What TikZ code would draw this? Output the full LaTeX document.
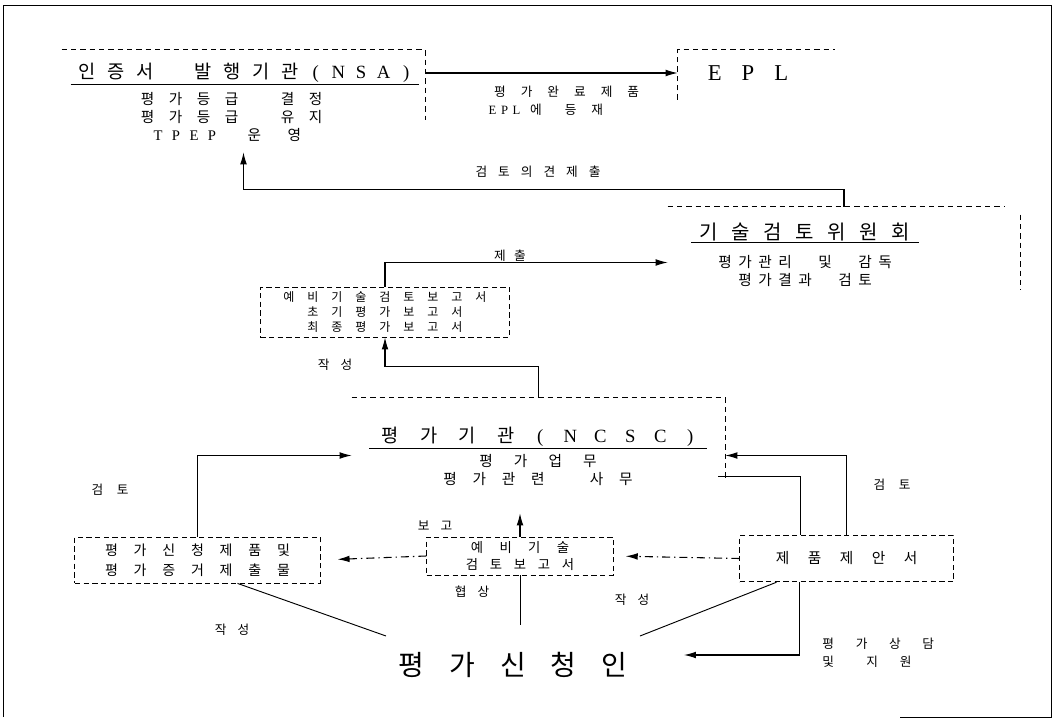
\documentclass[tikz,border=0pt]{standalone}
\usepackage{fontspec}
\setmainfont{Liberation Serif}
\newfontfamily\kr{Noto Sans CJK KR}
\newfontfamily\lat{Liberation Serif}
\usetikzlibrary{arrows.meta, positioning, fit, calc}

% characters set on a fixed pitch, as in the scan
\newlength\cellw
\newcommand\cells[2]{\setlength\cellw{#1}\cellsloop#2\relax}
\def\cellsloop#1{\ifx\relax#1\else\makebox[\cellw]{#1}\expandafter\cellsloop\fi}

\begin{document}
\begin{tikzpicture}[x=0.75pt, y=-0.75pt,
    ttl/.style={font={\kr\fontsize{14}{16}\selectfont}, inner sep=1pt},
    txt/.style={font={\kr\fontsize{11}{13.5}\selectfont}, align=center, inner sep=1pt},
    lbl/.style={font={\kr\fontsize{9.5}{13.5}\selectfont}, inner sep=1pt},
    box/.style={draw, dash pattern=on 4pt off 2.5pt, line width=0.6pt},
    rim/.style={dash pattern=on 4pt off 3pt, line width=0.5pt},
    arr/.style={-{Latex[length=9pt,width=5pt]}, line width=0.8pt},
    ln/.style={line width=0.7pt},
    dd/.style={dash pattern=on 6pt off 3pt on 1pt off 3pt},
  ]
  \useasboundingbox (0,0) rectangle (1055,720);

  % page frame
  \draw[line width=0.6pt] (3,717) -- (3,5) -- (1051,5) -- (1051,717) -- (900,717);

  % entity frames
  \node[fit={(62,50) (425,152)}, inner sep=0pt] (nsabox) {};
  \node[fit={(678,50) (835,100)}, inner sep=0pt] (eplbox) {};
  \node[fit={(668,207) (1020,318)}, inner sep=0pt] (techbox) {};
  \node[fit={(352,398) (725,513)}, inner sep=0pt] (ncscbox) {};

  \draw[rim] (nsabox.north west) -- (nsabox.north east) -- ($(nsabox.north east)+(0,70)$);
  \draw[rim] ($(eplbox.north west)+(0,50)$) -- (eplbox.north west) -- (eplbox.north east);
  \draw[rim] (techbox.north west) -- ($(techbox.north east)+(-15,0)$);
  \draw[rim] ($(techbox.north east)+(0,8)$) -- ($(techbox.north east)+(0,83)$);
  \draw[rim] (ncscbox.north west) -- (ncscbox.north east) -- ($(ncscbox.north east)+(0,82)$);

  % NSA
  \node[ttl] (nsa) at (245,73) {\cells{21.75pt}{인증서~발행기관}{\lat\cells{17pt}{(NSA)}}};
  \draw[ln] (nsa.south west) -- (nsa.south east);
  \node[txt, below=5pt of nsa, xshift=-10pt] (nsainfo) {\cells{21pt}{평가등급~결정}\\\cells{21pt}{평가등급~유지}\\{\lat\cells{13.5pt}{TPEP}}\hspace{10pt}\cells{30pt}{운영}};

  % EPL
  \node[font={\lat\fontsize{17}{20}\selectfont}] (epl) at (748,73) {\cells{25pt}{EPL}};

  % technical review board
  \node[ttl, font={\kr\fontsize{15}{17}\selectfont}] (tech) at (805,232) {\cells{24pt}{기술검토위원회}};
  \draw[ln] (tech.south west) -- (tech.south east);
  \node[txt, below=8pt of tech] (techinfo) {\cells{15pt}{평가관리~및~감독}\\\cells{15pt}{평가결과~검토}};

  % reports
  \node[box, font={\kr\fontsize{9}{11}\selectfont}, align=center, minimum width=187pt, minimum height=37.5pt] (rpt) at (385,312)
    {\cells{18pt}{예비기술검토보고서}\\\cells{18pt}{초기평가보고서}\\\cells{18pt}{최종평가보고서}};

  % NCSC
  \node[ttl] (ncsc) at (538,437) {\cells{29pt}{평가기관}{\lat\cells{22.5pt}{(NCSC)}}};
  \draw[ln] (ncsc.south west) -- (ncsc.south east);
  \node[txt, below=3pt of ncsc] (ncscinfo) {\cells{26pt}{평가업무}\\\cells{22pt}{평가관련~사무}};

  % documents
  \node[box, txt, font={\kr\fontsize{10.5}{15}\selectfont}, minimum width=184pt, minimum height=34.5pt] (app) at (197.5,560)
    {\cells{21.5pt}{평가신청제품 및}\\\cells{21.5pt}{평가증거제출물}};
  \node[box, txt, font={\kr\fontsize{10}{12.75}\selectfont}, minimum width=140pt, minimum height=28.5pt] (pre) at (520,556)
    {\cells{21.5pt}{예비기술}\\\cells{18pt}{검토보고서}};
  \node[box, txt, minimum width=160pt, minimum height=35pt] (prop) at (846.5,558.5) {\cells{24pt}{제품제안서}};

  % applicant
  \node[font={\kr\fontsize{21}{24}\selectfont}, inner xsep=0pt, inner ysep=12pt] (appl) at (513,665) {\cells{38pt}{평가신청인}};

  % connectors
  \draw[arr] (nsabox.east |- nsa) -- (eplbox.west |- nsa);
  \draw[arr] (techbox.north) -- ++(0,-17) -| (nsabox.south);
  \draw[arr] (rpt.north) |- (techbox.west);
  \draw[arr] (ncscbox.north) -- ++(0,-31) -| (rpt.south);
  \draw[arr] (app.north) |- (ncscbox.west);
  \draw[arr] (pre.north) -- (pre.north |- ncscbox.south);
  \draw[arr] (prop.north) |- (ncscbox.east);
  \draw[ln] ($(prop.north)+(-46.5,0)$) |- ($(ncscbox.east)+(-7,21)$);
  \draw[arr, dd, shorten >=9pt] (prop.west) -- (pre.east);
  \draw[arr, dd, shorten >=12.75pt] (pre.west) -- (app.east);
  \draw[ln] ($(app.south)+(40,0)$) -- (appl.north west);
  \draw[ln, shorten >=8pt] (pre.south) -- (pre.south |- appl.north);
  \draw[ln] ($(prop.south)+(-70,0)$) -- (appl.north east);
  \draw[arr] ($(prop.south)+(-47,0)$) |- ($(appl.east)+(44,-10)$);

  % labels
  \node[lbl, anchor=north west, align=left] (lepl) at (485,84)
    {\cells{20pt}{평가완료제품}\\{\lat\cells{9pt}{EPL}}\cells{20pt}{에}\hspace{6pt}\cells{20pt}{등재}};
  \node[lbl] (lopin) at (538,172) {\cells{17pt}{검토의견제출}};
  \node[lbl] (lsub) at (510,256) {\cells{15pt}{제출}};
  \node[lbl] (lwr1) at (335,365) {\cells{17pt}{작성}};
  \node[lbl] (lrev1) at (110,490) {\cells{19pt}{검토}};
  \node[lbl] (lrep) at (435,526) {\cells{17pt}{보고}};
  \node[lbl] (lneg) at (472,592) {\cells{17pt}{협상}};
  \node[lbl] (lwr2) at (232,630) {\cells{17pt}{작성}};
  \node[lbl] (lwr3) at (632,600) {\cells{17pt}{작성}};
  \node[lbl] (lrev2) at (892,485) {\cells{19pt}{검토}};
  \node[lbl, anchor=north west, align=left] (lhelp) at (810,636)
    {\cells{25pt}{평가상담}\\\cells{25pt}{및}\hspace{8pt}\cells{25pt}{지원}};
\end{tikzpicture}
\end{document}
